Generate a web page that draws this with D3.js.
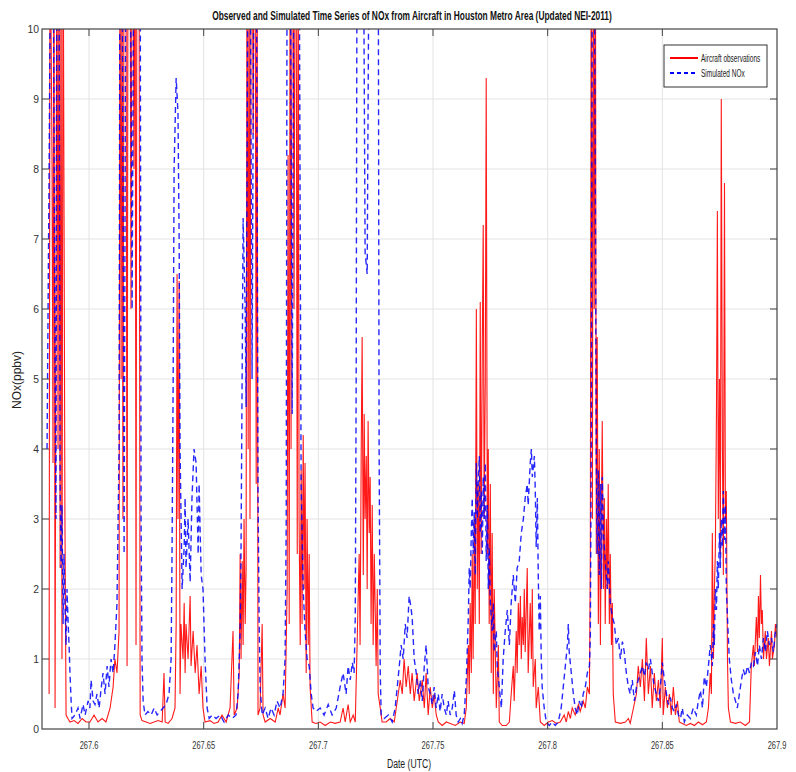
<!DOCTYPE html>
<head>
<style type="text/css">
	body { margin: 0; background: #fff; }
	text { font-family: "Liberation Sans", Arial, sans-serif; }
</style>
</head>
<script src="https://d3js.org/d3.v7.min.js"></script>
<body>
	<svg width="796" height="772"></svg>
	<script>
	// observed NOx from aircraft (ppbv), day of year (UTC)
	var obsTime = [267.5826,267.5830,267.5839,267.5843,267.5847,267.5852,267.5856,267.5860,267.5865,267.5869,267.5874,267.5878,267.5882,267.5887,267.5895,267.5900,267.5908,267.5917,267.5935,267.5952,267.5970,267.5987,267.6004,267.6022,267.6039,267.6057,267.6074,267.6092,267.6105,267.6113,267.6122,267.6131,267.6135,267.6140,267.6144,267.6148,267.6153,267.6161,267.6166,267.6170,267.6179,267.6183,267.6188,267.6192,267.6196,267.6201,267.6205,267.6209,267.6218,267.6223,267.6231,267.6249,267.6266,267.6284,267.6301,267.6319,267.6327,267.6332,267.6345,267.6362,267.6375,267.6380,267.6384,267.6388,267.6393,267.6397,267.6401,267.6410,267.6415,267.6419,267.6423,267.6432,267.6441,267.6445,267.6454,267.6463,267.6471,267.6480,267.6489,267.6497,267.6506,267.6528,267.6545,267.6563,267.6580,267.6598,267.6615,267.6628,267.6633,267.6646,267.6655,267.6659,267.6663,267.6668,267.6672,267.6676,267.6681,267.6685,267.6689,267.6694,267.6698,267.6702,267.6707,267.6711,267.6716,267.6720,267.6724,267.6729,267.6733,267.6737,267.6746,267.6755,267.6759,267.6768,267.6790,267.6812,267.6825,267.6833,267.6846,267.6855,267.6864,267.6868,267.6873,267.6877,267.6881,267.6886,267.6890,267.6894,267.6899,267.6903,267.6908,267.6912,267.6916,267.6921,267.6925,267.6929,267.6934,267.6938,267.6942,267.6947,267.6951,267.6956,267.6960,267.6964,267.6973,267.6990,267.7008,267.7030,267.7052,267.7073,267.7095,267.7108,267.7117,267.7130,267.7139,267.7152,267.7161,267.7169,267.7178,267.7182,267.7187,267.7191,267.7196,267.7200,267.7204,267.7209,267.7213,267.7217,267.7222,267.7226,267.7230,267.7235,267.7239,267.7244,267.7252,267.7257,267.7261,267.7270,267.7278,267.7296,267.7313,267.7331,267.7344,267.7357,267.7366,267.7374,267.7383,267.7392,267.7401,267.7409,267.7418,267.7431,267.7440,267.7453,267.7462,267.7470,267.7479,267.7488,267.7497,267.7505,267.7514,267.7523,267.7540,267.7558,267.7575,267.7597,267.7619,267.7636,267.7645,267.7654,267.7658,267.7662,267.7667,267.7671,267.7675,267.7680,267.7684,267.7689,267.7693,267.7697,267.7702,267.7706,267.7710,267.7715,267.7719,267.7723,267.7728,267.7732,267.7737,267.7741,267.7745,267.7750,267.7754,267.7758,267.7763,267.7767,267.7776,267.7785,267.7789,267.7802,267.7819,267.7833,267.7841,267.7850,267.7854,267.7863,267.7867,267.7872,267.7876,267.7881,267.7885,267.7889,267.7894,267.7898,267.7902,267.7911,267.7915,267.7924,267.7929,267.7933,267.7937,267.7946,267.7950,267.7959,267.7968,267.7985,267.8003,267.8020,267.8038,267.8055,267.8072,267.8081,267.8090,267.8099,267.8107,267.8120,267.8134,267.8142,267.8155,267.8164,267.8173,267.8182,267.8186,267.8190,267.8195,267.8199,267.8203,267.8208,267.8212,267.8216,267.8221,267.8225,267.8230,267.8234,267.8238,267.8243,267.8247,267.8251,267.8256,267.8260,267.8264,267.8269,267.8273,267.8278,267.8282,267.8286,267.8295,267.8317,267.8339,267.8352,267.8360,267.8374,267.8387,267.8395,267.8404,267.8413,267.8422,267.8430,267.8439,267.8448,267.8456,267.8465,267.8474,267.8483,267.8491,267.8500,267.8504,267.8513,267.8522,267.8531,267.8539,267.8548,267.8557,267.8566,267.8574,267.8587,267.8605,267.8622,267.8640,267.8657,267.8675,267.8692,267.8701,267.8709,267.8714,267.8718,267.8723,267.8727,267.8731,267.8736,267.8740,267.8744,267.8749,267.8753,267.8757,267.8762,267.8766,267.8771,267.8775,267.8779,267.8784,267.8788,267.8797,267.8819,267.8840,267.8862,267.8880,267.8888,267.8897,267.8901,267.8910,267.8915,267.8919,267.8923,267.8928,267.8932,267.8936,267.8941,267.8949,267.8954,267.8962,267.8967,267.8976,267.8980,267.8989,267.8993,267.9000];
	var obsNOx = [0.5,12,8,3.8,12,0.3,6,12,4,12,2.3,12,1.0,12,3,0.2,0.15,0.1,0.12,0.08,0.15,0.1,0.1,0.2,0.1,0.15,0.1,0.3,0.6,1.0,0.8,1.4,12,5,12,3,12,12,0.9,12,12,6,12,12,8,12,1.2,12,12,0.2,0.12,0.1,0.08,0.1,0.12,0.1,0.8,0.1,0.08,0.15,0.3,1.5,6.5,3,6.4,0.5,1.5,1.0,1.8,0.8,1.5,1.0,1.9,0.9,1.4,0.8,1.2,0.5,0.9,0.3,0.1,0.12,0.08,0.1,0.2,0.1,0.3,1.4,0.2,0.3,0.8,2.5,1.0,2.4,1.2,3.0,1.5,2.3,12,4,12,3,12,12,8.5,12,12,3.5,12,0.2,0.3,1.5,0.2,0.1,0.15,0.1,0.3,0.2,0.5,0.3,2.0,8.2,1.5,12,4,12,12,6,12,12,2.5,12,3,1.2,3.7,1.5,4.2,2.0,3.8,0.8,3.0,1.2,2.5,0.6,0.1,0.08,0.1,0.05,0.1,0.08,0.1,0.3,0.1,0.35,0.1,0.2,0.1,1.2,2.5,1.2,4.0,5.6,2.2,4.5,3.0,3.9,2.0,4.4,2.8,3.6,1.5,3.2,1.2,2.5,0.9,2.0,0.5,0.3,0.1,0.1,0.15,0.1,0.4,0.7,0.5,1.0,0.6,0.9,0.5,0.8,0.4,0.8,0.4,0.7,0.3,0.8,0.2,0.6,0.3,0.5,0.2,0.1,0.05,0.1,0.08,0.05,0.1,0.08,0.3,1.2,0.5,1.8,0.8,2.5,1.0,3.0,1.5,6.0,2.0,3.5,1.5,6.1,2.5,5.5,7.2,3.0,5.0,9.3,2.5,4.0,1.5,3.5,0.8,2.8,0.5,2.0,0.3,1.2,0.1,0.05,0.05,0.1,0.5,0.9,0.4,1.4,0.8,1.8,1.2,1.9,1.0,1.6,1.2,2.0,1.1,2.3,0.8,1.8,1.0,2.0,0.6,1.0,0.3,0.6,0.1,0.05,0.1,0.12,0.08,0.1,0.2,0.1,0.25,0.15,0.3,0.2,0.35,0.25,0.4,0.3,0.6,0.5,2.5,12,3,12,6,12,2.5,5.6,1.5,4.0,1.2,3.0,4.4,2.0,3.3,1.5,3.0,2.0,3.5,1.5,2.5,1.2,1.8,0.5,0.1,0.08,0.1,0.15,0.08,0.3,0.5,0.9,0.6,1.0,0.4,1.3,0.5,0.9,0.3,0.8,0.4,0.7,0.3,1.3,0.2,0.6,0.3,0.5,0.2,0.6,0.2,0.4,0.1,0.08,0.05,0.08,0.05,0.1,0.06,0.1,0.3,0.8,0.5,2.8,1.0,2.0,2.5,4.5,7.4,3.0,5.0,2.5,9.0,4.0,2.2,7.8,3.0,3.4,1.0,0.3,0.1,0.08,0.1,0.05,0.1,0.9,1.2,0.9,1.6,1.1,1.9,1.3,2.2,1.5,1.7,1.0,1.4,1.0,1.3,0.9,1.4,1.0,1.2,1.5,1.3];

	// simulated NOx (ppbv)
	var simTime = [267.5817,267.5826,267.5834,267.5843,267.5852,267.5856,267.5860,267.5869,267.5874,267.5878,267.5882,267.5887,267.5891,267.5895,267.5900,267.5904,267.5908,267.5913,267.5917,267.5922,267.5926,267.5939,267.5952,267.5961,267.5974,267.5983,267.5996,267.6004,267.6009,267.6018,267.6026,267.6035,267.6044,267.6052,267.6061,267.6070,267.6079,267.6087,267.6096,267.6105,267.6113,267.6122,267.6131,267.6135,267.6144,267.6153,267.6161,267.6179,267.6188,267.6196,267.6223,267.6227,267.6231,267.6236,267.6244,267.6257,267.6271,267.6284,267.6297,267.6310,267.6323,267.6336,267.6349,267.6358,267.6362,267.6367,267.6371,267.6380,267.6388,267.6393,267.6397,267.6406,267.6415,267.6419,267.6423,267.6432,267.6441,267.6449,267.6458,267.6467,267.6476,267.6480,267.6489,267.6497,267.6506,267.6515,267.6524,267.6537,267.6554,267.6572,267.6589,267.6607,267.6624,267.6641,267.6650,267.6659,267.6663,267.6668,267.6672,267.6681,267.6685,267.6694,267.6702,267.6711,267.6720,267.6729,267.6737,267.6742,267.6746,267.6755,267.6768,267.6781,267.6794,267.6807,267.6820,267.6833,267.6846,267.6855,267.6860,267.6864,267.6877,267.6886,267.6894,267.6908,267.6916,267.6921,267.6925,267.6934,267.6942,267.6951,267.6960,267.6969,267.6977,267.6990,267.7008,267.7025,267.7043,267.7060,267.7078,267.7095,267.7108,267.7121,267.7130,267.7139,267.7148,267.7156,267.7161,267.7165,267.7169,267.7196,267.7204,267.7213,267.7222,267.7261,267.7265,267.7270,267.7274,267.7287,267.7305,267.7322,267.7335,267.7344,267.7353,267.7361,267.7370,267.7379,267.7387,267.7396,267.7401,267.7409,267.7418,267.7427,267.7435,267.7444,267.7453,267.7462,267.7470,267.7479,267.7488,267.7497,267.7505,267.7514,267.7523,267.7531,267.7540,267.7549,267.7558,267.7566,267.7575,267.7584,267.7593,267.7601,267.7610,267.7619,267.7627,267.7636,267.7645,267.7654,267.7658,267.7662,267.7667,267.7671,267.7675,267.7680,267.7684,267.7689,267.7693,267.7697,267.7702,267.7706,267.7710,267.7715,267.7719,267.7723,267.7728,267.7732,267.7737,267.7741,267.7745,267.7750,267.7758,267.7763,267.7767,267.7776,267.7780,267.7789,267.7798,267.7806,267.7815,267.7824,267.7833,267.7841,267.7850,267.7859,267.7867,267.7876,267.7885,267.7894,267.7902,267.7911,267.7915,267.7924,267.7929,267.7933,267.7942,267.7946,267.7950,267.7955,267.7959,267.7963,267.7968,267.7972,267.7976,267.7985,267.7994,267.8007,267.8020,267.8033,267.8046,267.8059,267.8068,267.8077,267.8086,267.8090,267.8094,267.8103,267.8112,267.8120,267.8129,267.8138,267.8147,267.8155,267.8164,267.8173,267.8182,267.8186,267.8190,267.8195,267.8203,267.8212,267.8216,267.8221,267.8225,267.8230,267.8234,267.8238,267.8243,267.8251,267.8260,267.8264,267.8273,267.8282,267.8291,267.8299,267.8308,267.8317,267.8326,267.8334,267.8343,267.8352,267.8360,267.8369,267.8378,267.8387,267.8395,267.8404,267.8413,267.8422,267.8430,267.8439,267.8448,267.8456,267.8465,267.8474,267.8483,267.8491,267.8500,267.8509,267.8518,267.8526,267.8535,267.8544,267.8552,267.8561,267.8570,267.8579,267.8587,267.8596,267.8609,267.8622,267.8635,267.8648,267.8657,267.8666,267.8675,267.8683,267.8692,267.8701,267.8709,267.8718,267.8723,267.8727,267.8731,267.8736,267.8740,267.8744,267.8749,267.8753,267.8757,267.8762,267.8766,267.8771,267.8775,267.8779,267.8784,267.8788,267.8792,267.8801,267.8810,267.8819,267.8827,267.8836,267.8845,267.8853,267.8862,267.8871,267.8880,267.8888,267.8897,267.8906,267.8915,267.8923,267.8932,267.8941,267.8949,267.8958,267.8967,267.8976,267.8984,267.8993,267.9000];
	var simNOx = [4.0,8,12,12,5,3,12,12,3.5,2.3,3.2,1.5,2.5,1.8,1.2,2.0,1.6,1.2,0.8,0.4,0.15,0.2,0.3,0.15,0.35,0.2,0.4,0.3,0.7,0.4,0.35,0.5,0.3,0.55,0.8,0.5,0.9,0.6,1.0,0.8,1.2,1.8,4,12,12,2.5,12,12,6,12,12,3,1.0,0.4,0.2,0.25,0.2,0.3,0.2,0.25,0.3,0.35,0.5,1.0,2.5,5,8,9.3,8.8,7,4,2.0,2.6,3.3,2.3,3.0,2.1,3.3,4.0,3.8,2.5,3.5,2.2,2.0,1.0,0.3,0.15,0.2,0.15,0.2,0.1,0.2,0.15,0.2,0.5,1.4,2.6,5.2,7.3,6,4.6,12,12,5,12,12,3.4,1.5,0.6,0.2,0.3,0.15,0.3,0.2,0.4,0.3,0.5,1.0,3.0,12,12,4.5,12,12,12,7.0,3.5,2.0,1.4,1.0,0.9,0.5,0.3,0.25,0.3,0.2,0.35,0.2,0.3,0.6,0.8,0.5,0.9,0.7,0.95,0.8,1.6,5,12,12,6.8,6.5,12,12,4,0.8,0.2,0.15,0.2,0.1,0.3,0.6,0.9,1.2,1.0,1.5,1.3,1.9,1.8,1.6,1.0,0.8,0.5,0.7,0.4,0.9,1.2,0.6,0.5,0.35,0.6,0.3,0.5,0.25,0.5,0.3,0.2,0.4,0.2,0.3,0.55,0.2,0.1,0.15,0.08,0.2,0.7,1.6,2.3,2.0,2.8,3.3,2.5,3.1,2.2,3.8,3.0,3.5,3.9,2.8,3.4,2.5,3.6,3.0,3.8,2.4,3.2,2.0,2.6,1.8,1.4,1.8,1.1,1.4,0.9,0.6,0.3,1.0,1.4,1.7,1.2,1.8,2.2,1.8,2.3,2.4,2.8,3.0,3.3,3.5,3.2,3.8,4.0,3.6,3.9,3.4,2.6,3.3,2.2,1.4,1.9,1.0,0.6,0.3,0.1,0.05,0.1,0.05,0.1,0.3,0.6,0.9,1.2,1.5,1.1,0.8,0.5,0.3,0.2,0.4,0.3,0.5,0.6,0.8,0.9,1.3,4,12,12,3.9,2.5,3.7,2.2,3.5,2.0,3.6,2.8,2.4,2.0,2.4,1.8,1.6,1.5,1.2,1.3,1.0,1.25,1.1,0.8,0.6,0.5,0.7,0.4,0.6,0.7,0.8,0.9,0.75,0.95,0.85,1.0,0.8,0.6,0.5,0.4,0.6,0.95,0.7,0.5,0.35,0.45,0.3,0.25,0.35,0.2,0.15,0.3,0.1,0.2,0.15,0.3,0.2,0.4,0.55,0.3,0.75,0.6,0.9,1.2,0.9,1.5,1.2,2.0,1.7,2.4,2.0,2.8,2.3,3.0,2.6,3.4,2.7,3.2,2.0,1.6,1.3,1.0,0.7,0.5,0.4,0.3,0.5,0.7,0.85,0.75,0.9,0.8,0.95,0.9,1.1,0.9,1.2,1.0,1.3,1.1,1.4,1.2,1.3,1.1,1.4,1.5];

	var xTicks = [267.6, 267.65, 267.7, 267.75, 267.8, 267.85, 267.9];
	var yTicks = d3.range(0, 11);
	var seriesNames = ["Aircraft observations", "Simulated NOx"];

	var svg = d3.select("svg");
	var m = { left: 42, right: 777, top: 29, bottom: 729 };

	var x = d3.scaleLinear().domain([267.5795, 267.9]).range([m.left, m.right]);
	var y = d3.scaleLinear().domain([0, 10]).range([m.bottom, m.top]);

	// squeeze text horizontally, the source picture is condensed
	function squeeze(sel, k) {
		sel.each(function() {
			var w = this.getComputedTextLength();
			d3.select(this).attr("textLength", w * k).attr("lengthAdjust", "spacingAndGlyphs");
		});
	}

	svg.append("rect").attr("x", m.left).attr("y", m.top)
		.attr("width", m.right - m.left).attr("height", m.bottom - m.top).attr("fill", "#fff");

	// grid
	svg.append("g").selectAll("line").data(yTicks.slice(1, -1)).enter().append("line")
		.attr("x1", m.left).attr("x2", m.right)
		.attr("y1", function(d) { return y(d); }).attr("y2", function(d) { return y(d); })
		.attr("stroke", "#e3e3e3");
	svg.append("g").selectAll("line").data(xTicks.slice(0, -1)).enter().append("line")
		.attr("y1", m.top).attr("y2", m.bottom)
		.attr("x1", function(d) { return x(d); }).attr("x2", function(d) { return x(d); })
		.attr("stroke", "#e3e3e3");

	svg.append("clipPath").attr("id", "plot")
		.append("rect").attr("x", m.left).attr("y", m.top)
		.attr("width", m.right - m.left).attr("height", m.bottom - m.top);

	var obsLine = d3.line()
		.x(function(d, i) { return x(obsTime[i]); })
		.y(function(d) { return y(d); });
	var simLine = d3.line()
		.x(function(d, i) { return x(simTime[i]); })
		.y(function(d) { return y(d); });

	var lines = svg.append("g").attr("clip-path", "url(#plot)");
	lines.append("path").attr("d", obsLine(obsNOx))
		.attr("fill", "none").attr("stroke", "#ff0000").attr("stroke-width", 1.1)
		.attr("stroke-opacity", 0.9);
	lines.append("path").attr("d", simLine(simNOx))
		.attr("fill", "none").attr("stroke", "#0000ff").attr("stroke-width", 1.4)
		.attr("stroke-dasharray", "6,4").attr("stroke-opacity", 0.85);

	// axes, ticks inside on all four sides
	var ax = svg.append("g").attr("class", "axes");
	var yt = yTicks.slice(1, -1);
	ax.selectAll(".tl").data(yt).enter().append("line")
		.attr("x1", m.left).attr("x2", m.left + 7)
		.attr("y1", function(d) { return y(d); }).attr("y2", function(d) { return y(d); })
		.attr("stroke", "#444");
	ax.selectAll(".tr").data(yt).enter().append("line")
		.attr("x1", m.right - 7).attr("x2", m.right)
		.attr("y1", function(d) { return y(d); }).attr("y2", function(d) { return y(d); })
		.attr("stroke", "#444");
	ax.selectAll(".tb").data(xTicks.slice(0, -1)).enter().append("line")
		.attr("y1", m.bottom - 7).attr("y2", m.bottom)
		.attr("x1", function(d) { return x(d); }).attr("x2", function(d) { return x(d); })
		.attr("stroke", "#444");
	ax.selectAll(".tt").data(xTicks.slice(0, -1)).enter().append("line")
		.attr("y1", m.top).attr("y2", m.top + 7)
		.attr("x1", function(d) { return x(d); }).attr("x2", function(d) { return x(d); })
		.attr("stroke", "#444");
	ax.append("rect").attr("x", m.left).attr("y", m.top)
		.attr("width", m.right - m.left).attr("height", m.bottom - m.top)
		.attr("fill", "none").attr("stroke", "#444").attr("stroke-width", 1.2);

	ax.selectAll(".yl").data(yTicks).enter().append("text")
		.attr("x", m.left - 3).attr("y", function(d) { return y(d) + 4; })
		.attr("text-anchor", "end").attr("font-size", 11.5).attr("fill", "#333")
		.text(function(d) { return d; })
		.call(squeeze, 0.9);
	ax.selectAll(".xl").data(xTicks).enter().append("text")
		.attr("x", function(d) { return x(d); }).attr("y", 749)
		.attr("text-anchor", "middle").attr("font-size", 11.5).attr("fill", "#333")
		.text(function(d) { return d3.format("")(d); })
		.call(squeeze, 0.65);

	svg.append("text").attr("x", 409).attr("y", 768)
		.attr("text-anchor", "middle").attr("font-size", 12).attr("fill", "#222")
		.text("Date (UTC)").call(squeeze, 0.72);
	svg.append("text").attr("transform", "translate(21,380) rotate(-90)")
		.attr("text-anchor", "middle").attr("font-size", 12).attr("fill", "#222")
		.text("NOx(ppbv)");

	// title, condensed to 400px wide with a horizontal scale
	var title = svg.append("text")
		.attr("text-anchor", "middle").attr("font-size", 12.5).attr("font-weight", "bold")
		.attr("fill", "#111")
		.text("Observed and Simulated Time Series of NOx from Aircraft in Houston Metro Area (Updated NEI-2011)");
	var tw = title.node().getComputedTextLength();
	title.attr("transform", "translate(412,20) scale(" + (400 / tw) + ",1)");

	// legend
	var lg = svg.append("g").attr("transform", "translate(664,45)");
	lg.append("rect").attr("width", 103).attr("height", 42)
		.attr("fill", "#fff").attr("stroke", "#333");
	var entries = lg.selectAll(".entry").data(seriesNames).enter().append("g")
		.attr("transform", function(d, i) { return "translate(0," + (13 + i * 15) + ")"; });
	entries.append("line").attr("x1", 6).attr("x2", 34).attr("y1", 0).attr("y2", 0)
		.attr("stroke", function(d, i) { return i ? "#0000ff" : "#ff0000"; })
		.attr("stroke-width", 2)
		.attr("stroke-dasharray", function(d, i) { return i ? "4,3" : null; });
	entries.append("text").attr("x", 37).attr("y", 3.5)
		.attr("font-size", 10).attr("fill", "#222")
		.text(function(d) { return d; })
		.call(squeeze, 0.65);
	</script>
</body>
